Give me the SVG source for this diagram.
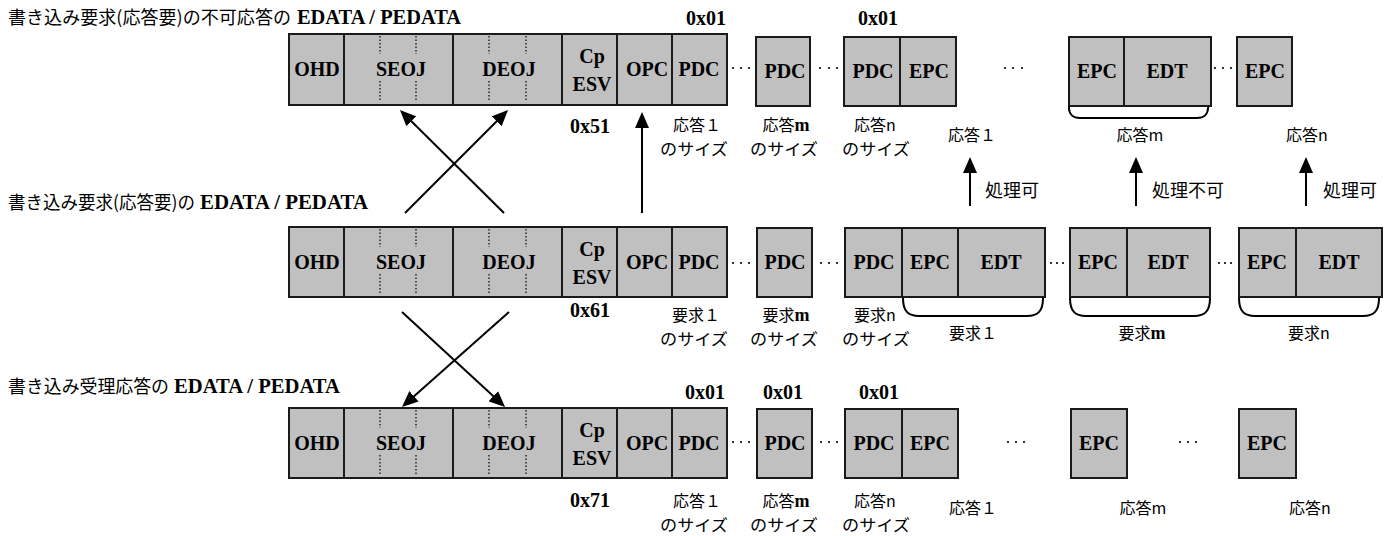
<svg xmlns="http://www.w3.org/2000/svg" width="1394" height="536" viewBox="0 0 1394 536">
<defs>
<style>
.c{fill:#c0c0c0;stroke:#1a1a1a;stroke-width:2}
.t{font-family:"Liberation Serif","Times New Roman",serif;font-weight:bold;font-size:20px;text-anchor:middle;fill:#000}
.n{font-family:"Liberation Serif","Times New Roman",serif;font-weight:bold;font-size:20px;fill:#000}
.jp{font-family:"Noto Sans CJK JP",sans-serif;font-size:16px;fill:#000;text-anchor:middle}
.jt{font-family:"Noto Sans CJK JP",sans-serif;font-size:18px;fill:#000}
.s{font-family:"Liberation Serif","Times New Roman",serif;font-weight:bold;font-size:18px}
.d{stroke:#000;stroke-width:1.2;stroke-dasharray:1.5 2;fill:none}
.ar{stroke:#000;stroke-width:2;fill:none;marker-end:url(#ah)}
.br{stroke:#000;stroke-width:2;fill:none}
.dt{fill:#000}
</style>
<marker id="ah" markerUnits="userSpaceOnUse" markerWidth="16" markerHeight="14" refX="12" refY="7" orient="auto"><path d="M0,0 L16,7 L0,14 z" fill="#000"/></marker>
</defs>
<rect width="1394" height="536" fill="#fff"/>

<!-- titles -->
<g id="title1"><text class="jt" x="8" y="24" textLength="283" lengthAdjust="spacingAndGlyphs">書き込み要求(応答要)の不可応答の</text><text class="n" x="297" y="24" textLength="164" lengthAdjust="spacingAndGlyphs">EDATA / PEDATA</text></g>
<g id="title2"><text class="jt" x="8" y="209" textLength="187" lengthAdjust="spacingAndGlyphs">書き込み要求(応答要)の</text><text class="n" x="200" y="209" textLength="168" lengthAdjust="spacingAndGlyphs">EDATA / PEDATA</text></g>
<g id="title3"><text class="jt" x="8" y="393" textLength="161" lengthAdjust="spacingAndGlyphs">書き込み受理応答の</text><text class="n" x="174" y="393" textLength="166" lengthAdjust="spacingAndGlyphs">EDATA / PEDATA</text></g>

<!-- ROW 1 -->
<g id="r1-header">
<rect class="c" x="289" y="34" width="55" height="71"/><text class="t" x="317" y="76">OHD</text>
<rect class="c" x="344" y="34" width="109" height="71"/><text class="t" x="401" y="76">SEOJ</text>
<path class="d" d="M380,36V54M416,36V54M380,81V102M416,81V102"/>
<rect class="c" x="453" y="34" width="109" height="71"/><text class="t" x="509" y="76">DEOJ</text>
<path class="d" d="M489,36V54M526,36V54M489,81V102M526,81V102"/>
<rect class="c" x="562" y="34" width="55" height="71"/><text class="t" x="592" y="63">Cp</text><text class="t" x="592" y="91">ESV</text>
<rect class="c" x="617" y="34" width="55" height="71"/><text class="t" x="647" y="76">OPC</text>
<rect class="c" x="672" y="34" width="55" height="71"/><text class="t" x="699" y="76">PDC</text>
</g>
<g id="r1-pdcm"><rect class="c" x="756" y="37" width="54" height="69"/><text class="t" x="785" y="78">PDC</text></g>
<g id="r1-pdcn"><rect class="c" x="844" y="37" width="56" height="69"/><text class="t" x="873" y="78">PDC</text><rect class="c" x="900" y="37" width="56" height="69"/><text class="t" x="929" y="78">EPC</text></g>
<g id="r1-resm"><rect class="c" x="1069" y="37" width="55" height="69"/><text class="t" x="1097" y="78">EPC</text><rect class="c" x="1124" y="37" width="87" height="69"/><text class="t" x="1167" y="78">EDT</text>
<path class="br" d="M1069,106V108C1069,114 1073,118 1080,118H1197C1204,118 1208,114 1208,108V106"/></g>
<g id="r1-resn"><rect class="c" x="1237" y="37" width="55" height="69"/><text class="t" x="1265" y="78">EPC</text></g>
<g id="r1-dots" class="dt">
<circle cx="733" cy="68" r="1.1"/><circle cx="741" cy="68" r="1.1"/><circle cx="749" cy="68" r="1.1"/>
<circle cx="820" cy="68" r="1.1"/><circle cx="829" cy="68" r="1.1"/><circle cx="837" cy="68" r="1.1"/>
<circle cx="1005" cy="68" r="1.1"/><circle cx="1013" cy="68" r="1.1"/><circle cx="1022" cy="68" r="1.1"/>
<circle cx="1215" cy="68" r="1.1"/><circle cx="1223" cy="68" r="1.1"/><circle cx="1231" cy="68" r="1.1"/>
</g>
<g id="r1-labels">
<text class="t" x="706" y="25">0x01</text><text class="t" x="878" y="25">0x01</text>
<text class="t" x="590" y="133">0x51</text>
<text class="jp" x="697" y="131">応答１</text><text class="jp" x="786" y="131">応答<tspan class="s">m</tspan></text><text class="jp" x="875" y="131">応答n</text>
<text class="jp" x="694" y="155" textLength="68" lengthAdjust="spacingAndGlyphs">のサイズ</text><text class="jp" x="784" y="155" textLength="68" lengthAdjust="spacingAndGlyphs">のサイズ</text><text class="jp" x="876" y="155" textLength="68" lengthAdjust="spacingAndGlyphs">のサイズ</text>
<text class="jp" x="972" y="141">応答１</text><text class="jp" x="1140" y="141">応答m</text><text class="jp" x="1307" y="141">応答n</text>
<text class="jt" x="985" y="197">処理可</text><text class="jt" x="1152" y="197">処理不可</text><text class="jt" x="1323" y="197">処理可</text>
</g>

<!-- ROW 2 -->
<g id="r2-header">
<rect class="c" x="289" y="227" width="55" height="70"/><text class="t" x="317" y="269">OHD</text>
<rect class="c" x="344" y="227" width="109" height="70"/><text class="t" x="401" y="269">SEOJ</text>
<path class="d" d="M380,229V247M416,229V247M380,274V295M416,274V295"/>
<rect class="c" x="453" y="227" width="109" height="70"/><text class="t" x="509" y="269">DEOJ</text>
<path class="d" d="M489,229V247M526,229V247M489,274V295M526,274V295"/>
<rect class="c" x="562" y="227" width="55" height="70"/><text class="t" x="592" y="256">Cp</text><text class="t" x="592" y="284">ESV</text>
<rect class="c" x="617" y="227" width="55" height="70"/><text class="t" x="647" y="269">OPC</text>
<rect class="c" x="672" y="227" width="55" height="70"/><text class="t" x="699" y="269">PDC</text>
</g>
<g id="r2-pdcm"><rect class="c" x="757" y="228" width="55" height="69"/><text class="t" x="785" y="269">PDC</text></g>
<g id="r2-req1"><rect class="c" x="845" y="228" width="57" height="69"/><text class="t" x="874" y="269">PDC</text><rect class="c" x="902" y="228" width="56" height="69"/><text class="t" x="930" y="269">EPC</text><rect class="c" x="958" y="228" width="87" height="69"/><text class="t" x="1001" y="269">EDT</text>
<path class="br" d="M903,298C903,311 908,316 919,316H1027C1038,316 1043,311 1043,298"/></g>
<g id="r2-reqm"><rect class="c" x="1070" y="228" width="57" height="69"/><text class="t" x="1098" y="269">EPC</text><rect class="c" x="1127" y="228" width="83" height="69"/><text class="t" x="1168" y="269">EDT</text>
<path class="br" d="M1070,298C1070,311 1075,316 1086,316H1194C1205,316 1210,311 1210,298"/></g>
<g id="r2-reqn"><rect class="c" x="1239" y="228" width="57" height="69"/><text class="t" x="1267" y="269">EPC</text><rect class="c" x="1296" y="228" width="86" height="69"/><text class="t" x="1339" y="269">EDT</text>
<path class="br" d="M1239,298C1239,311 1244,316 1255,316H1363C1374,316 1379,311 1379,298"/></g>
<g id="r2-dots" class="dt">
<circle cx="733" cy="263" r="1.1"/><circle cx="741" cy="263" r="1.1"/><circle cx="749" cy="263" r="1.1"/>
<circle cx="821" cy="263" r="1.1"/><circle cx="829" cy="263" r="1.1"/><circle cx="837" cy="263" r="1.1"/>
<circle cx="1051" cy="263" r="1.1"/><circle cx="1057" cy="263" r="1.1"/><circle cx="1063" cy="263" r="1.1"/>
<circle cx="1219" cy="263" r="1.1"/><circle cx="1225" cy="263" r="1.1"/><circle cx="1231" cy="263" r="1.1"/>
</g>
<g id="r2-labels">
<text class="t" x="590" y="317">0x61</text>
<text class="jp" x="696" y="321">要求１</text><text class="jp" x="786" y="321">要求<tspan class="s">m</tspan></text><text class="jp" x="875" y="321">要求n</text>
<text class="jp" x="694" y="345" textLength="68" lengthAdjust="spacingAndGlyphs">のサイズ</text><text class="jp" x="784" y="345" textLength="68" lengthAdjust="spacingAndGlyphs">のサイズ</text><text class="jp" x="876" y="345" textLength="68" lengthAdjust="spacingAndGlyphs">のサイズ</text>
<text class="jp" x="973" y="339">要求１</text><text class="jp" x="1142" y="339">要求<tspan class="s">m</tspan></text><text class="jp" x="1309" y="339">要求n</text>
</g>

<!-- ROW 3 -->
<g id="r3-header">
<rect class="c" x="289" y="408" width="55" height="70"/><text class="t" x="317" y="450">OHD</text>
<rect class="c" x="344" y="408" width="109" height="70"/><text class="t" x="401" y="450">SEOJ</text>
<path class="d" d="M380,410V428M416,410V428M380,455V476M416,455V476"/>
<rect class="c" x="453" y="408" width="109" height="70"/><text class="t" x="509" y="450">DEOJ</text>
<path class="d" d="M489,410V428M526,410V428M489,455V476M526,455V476"/>
<rect class="c" x="562" y="408" width="55" height="70"/><text class="t" x="592" y="437">Cp</text><text class="t" x="592" y="465">ESV</text>
<rect class="c" x="617" y="408" width="55" height="70"/><text class="t" x="647" y="450">OPC</text>
<rect class="c" x="672" y="408" width="55" height="70"/><text class="t" x="699" y="450">PDC</text>
</g>
<g id="r3-pdcm"><rect class="c" x="757" y="409" width="55" height="69"/><text class="t" x="785" y="450">PDC</text></g>
<g id="r3-pdcn"><rect class="c" x="845" y="409" width="57" height="69"/><text class="t" x="874" y="450">PDC</text><rect class="c" x="902" y="409" width="56" height="69"/><text class="t" x="930" y="450">EPC</text></g>
<g id="r3-resm"><rect class="c" x="1071" y="409" width="56" height="69"/><text class="t" x="1099" y="450">EPC</text></g>
<g id="r3-resn"><rect class="c" x="1239" y="409" width="57" height="69"/><text class="t" x="1267" y="450">EPC</text></g>
<g id="r3-dots" class="dt">
<circle cx="733" cy="442" r="1.1"/><circle cx="741" cy="442" r="1.1"/><circle cx="749" cy="442" r="1.1"/>
<circle cx="821" cy="442" r="1.1"/><circle cx="829" cy="442" r="1.1"/><circle cx="837" cy="442" r="1.1"/>
<circle cx="1008" cy="442" r="1.1"/><circle cx="1016" cy="442" r="1.1"/><circle cx="1024" cy="442" r="1.1"/>
<circle cx="1180" cy="442" r="1.1"/><circle cx="1188" cy="442" r="1.1"/><circle cx="1196" cy="442" r="1.1"/>
</g>
<g id="r3-labels">
<text class="t" x="705" y="399">0x01</text><text class="t" x="783" y="399">0x01</text><text class="t" x="879" y="399">0x01</text>
<text class="t" x="590" y="507">0x71</text>
<text class="jp" x="697" y="507">応答１</text><text class="jp" x="786" y="507">応答<tspan class="s">m</tspan></text><text class="jp" x="875" y="507">応答n</text>
<text class="jp" x="694" y="531" textLength="68" lengthAdjust="spacingAndGlyphs">のサイズ</text><text class="jp" x="784" y="531" textLength="68" lengthAdjust="spacingAndGlyphs">のサイズ</text><text class="jp" x="876" y="531" textLength="68" lengthAdjust="spacingAndGlyphs">のサイズ</text>
<text class="jp" x="973" y="514">応答１</text><text class="jp" x="1143" y="514">応答m</text><text class="jp" x="1310" y="514">応答n</text>
</g>

<!-- connectors -->
<g id="connectors">
<path class="ar" d="M405,213L505.2,112.8"/>
<path class="ar" d="M504,213L402.8,112.8"/>
<path class="ar" d="M642,213V116"/>
<path class="ar" d="M970,206V161"/>
<path class="ar" d="M1136,206V161"/>
<path class="ar" d="M1306,206V161"/>
<path class="ar" d="M402,312L502.1,404.3"/>
<path class="ar" d="M509,312L405,404.3"/>
</g>
</svg>
